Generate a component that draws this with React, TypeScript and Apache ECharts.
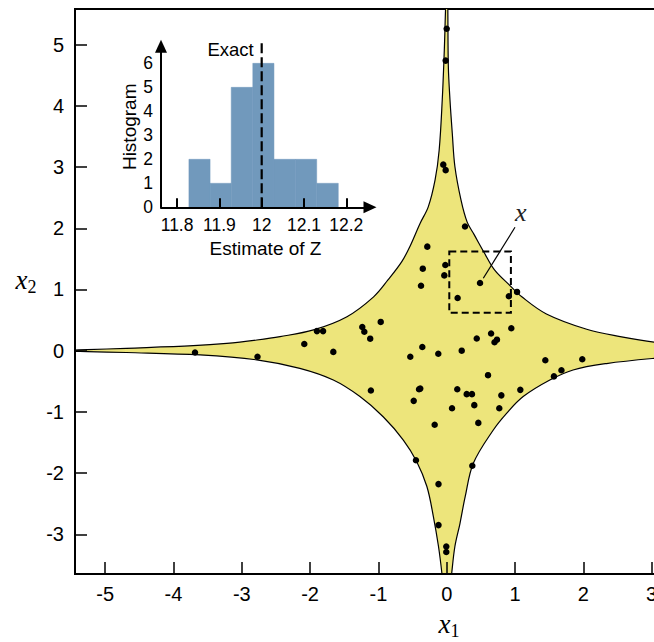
import React, { useEffect, useRef } from "react";
import * as echarts from "echarts";

// ---- main panel data ----
const xTicks = [-5, -4, -3, -2, -1, 0, 1, 2, 3];
const yTicks = [-3, -2, -1, 0, 1, 2, 3, 4, 5];

// boundary of the yellow region, traced per quadrant
const upperRightEdge = [
  [0.012, 5.9], [0.024, 4.65], [0.048, 4.1], [0.082, 3.55], [0.12, 3.01], [0.21, 2.46],
  [0.3, 2.1], [0.4, 1.9], [0.55, 1.6], [0.7, 1.32], [0.93, 1.06], [1.1, 0.88],
  [1.46, 0.6], [2.05, 0.35], [2.54, 0.23], [3.035, 0.14], [3.6, 0.09],
];
const lowerRightEdge = [
  [3.6, -0.08], [3.035, -0.125], [2.34, -0.21], [1.85, -0.315], [1.51, -0.48], [1.12, -0.75],
  [0.88, -1.02], [0.68, -1.3], [0.39, -1.84], [0.27, -2.39], [0.195, -2.82], [0.12, -3.2],
  [0.073, -3.64], [0.05, -3.9],
];
const lowerLeftEdge = [
  [-0.05, -3.9], [-0.07, -3.64], [-0.12, -3.2], [-0.195, -2.71], [-0.29, -2.22], [-0.44, -1.81],
  [-0.635, -1.46], [-0.93, -1.08], [-1.27, -0.75], [-1.66, -0.48], [-2.15, -0.29], [-2.78, -0.15],
  [-3.61, -0.07], [-4.69, -0.03], [-5.26, -0.015], [-5.6, -0.005],
];
const upperLeftEdge = [
  [-5.6, 0.005], [-5.26, 0.016], [-4.69, 0.039], [-3.71, 0.082], [-3.22, 0.12], [-2.78, 0.175],
  [-2.44, 0.23], [-1.95, 0.34], [-1.46, 0.556], [-1.07, 0.88], [-0.86, 1.155], [-0.66, 1.45],
  [-0.54, 1.7], [-0.39, 2.08], [-0.27, 2.35], [-0.17, 2.79], [-0.11, 3.28], [-0.065, 4.1],
  [-0.035, 4.91], [-0.005, 5.9],
];

// sample points
const pointsX1 = [
  0, -0.015, -0.05, -0.015, 0.268, -0.284, -0.02, -0.35, -0.035, -0.376,
  0.488, 0.16, 0.91, 1.03, -0.966, -1.236, -1.206, -1.12, 0.946, 0.44,
  0.65, 0.736, 0.7, -0.357, -0.123, 0.22, -0.533, 0.605, -1.11, -0.387,
  -0.405, 0.155, 0.293, 0.37, 0.8, 1.078, -0.483, 0.078, 0.404, 0.77,
  -0.176, 0.463, -0.45, 0.375, 1.444, 1.985, 1.68, 1.57, -0.12, -0.12,
  -0.006, -0.006, -1.9, -1.81, -2.085, -1.66, -2.77, -3.685,
];
const pointsX2 = [
  5.26, 4.74, 3.04, 2.95, 2.03, 1.7, 1.4, 1.34, 1.23, 1.06,
  1.106, 0.86, 0.89, 0.96, 0.47, 0.387, 0.31, 0.196, 0.366, 0.2,
  0.28, 0.18, 0.137, 0.06, -0.05, 0.0, -0.1, -0.4, -0.65, -0.62,
  -0.63, -0.63, -0.71, -0.71, -0.73, -0.64, -0.82, -0.94, -0.89, -0.94,
  -1.21, -1.18, -1.79, -1.88, -0.157, -0.14, -0.32, -0.42, -2.18, -2.85,
  -3.2, -3.29, 0.32, 0.32, 0.11, -0.02, -0.1, -0.03,
];

// highlighted point annotation
const boxX1 = [0.038, 0.94];
const boxX2 = [0.62, 1.62];
const pointerStart = [0.536, 1.183];
const pointerEnd = [1.0, 2.016];
const pointerLabel = [1.085, 2.26];

// ---- inset histogram data ----
const binEdges = [11.828, 11.878, 11.928, 11.979, 12.029, 12.08, 12.13, 12.181];
const binCounts = [2, 1, 5, 6, 2, 2, 1];
const insetXTicks = [11.8, 11.9, 12, 12.1, 12.2];
const insetYTicks = [0, 1, 2, 3, 4, 5, 6];
const exactValue = 12;

const SANS = "Liberation Sans";
const SERIF = "Liberation Serif";

export default function App() {
  const ref = useRef<HTMLDivElement>(null);
  useEffect(() => {
    const chart = echarts.init(ref.current!, null, { renderer: "svg" });
    const region = [...upperRightEdge, ...lowerRightEdge, ...lowerLeftEdge, ...upperLeftEdge];
    const points = pointsX1.map((v, i) => [v, pointsX2[i]]);
    const bins = binCounts.map((c, i) => [binEdges[i], binEdges[i + 1], c]);
    const mathRich = {
      v: { fontFamily: SERIF, fontStyle: "italic", fontSize: 27, lineHeight: 30, verticalAlign: "bottom", padding: [0, 0, 3, 0], fill: "#000", color: "#000" },
      s: { fontFamily: SERIF, fontSize: 18, lineHeight: 20, verticalAlign: "bottom", fill: "#000", color: "#000" },
    };
    chart.setOption({
      animation: false,
      backgroundColor: "#fff",
      grid: [
        { left: 75, top: 9, width: 599, height: 565, outerBoundsMode: "none", containLabel: false, show: true, borderColor: "#000", borderWidth: 2, backgroundColor: "transparent" },
        { left: 161, top: 46.3, width: 209, height: 161, outerBoundsMode: "none", containLabel: false },
      ],
      xAxis: [
        {
          type: "value", gridIndex: 0, min: -5.442, max: 3.328, z: 10,
          axisLine: { onZero: false, lineStyle: { color: "#000", width: 2 } },
          axisTick: { inside: true, length: 12, customValues: xTicks, lineStyle: { color: "#000", width: 1.5 } },
          axisLabel: { customValues: xTicks, color: "#000", fontSize: 20, fontFamily: SANS, margin: 10 },
          splitLine: { show: false },
        },
        {
          type: "value", gridIndex: 1, min: 11.762, max: 12.256, z: 10,
          axisLine: { onZero: false, symbol: ["none", "triangle"], symbolSize: [12, 13], lineStyle: { color: "#000", width: 2 } },
          axisTick: { inside: true, length: 9, customValues: insetXTicks, lineStyle: { color: "#000", width: 2 } },
          axisLabel: { customValues: insetXTicks, color: "#000", fontSize: 17.5, fontFamily: SANS, margin: 9, formatter: (v: number) => String(Math.round(v * 10) / 10) },
          splitLine: { show: false },
          name: "Estimate of Z", nameLocation: "middle", nameGap: 32,
          nameTextStyle: { color: "#000", fontSize: 19, fontFamily: SANS },
        },
      ],
      yAxis: [
        {
          type: "value", gridIndex: 0, min: -3.649, max: 5.583, z: 10,
          axisLine: { onZero: false, lineStyle: { color: "#000", width: 2 } },
          axisTick: { inside: true, length: 12, customValues: yTicks, lineStyle: { color: "#000", width: 1.5 } },
          axisLabel: { customValues: yTicks, color: "#000", fontSize: 20, fontFamily: SANS, margin: 11 },
          splitLine: { show: false },
        },
        {
          type: "value", gridIndex: 1, min: 0, max: 6.71, z: 10,
          axisLine: { onZero: false, symbol: ["none", "triangle"], symbolSize: [12, 13], lineStyle: { color: "#000", width: 2 } },
          axisTick: { show: false },
          axisLabel: { customValues: insetYTicks, color: "#000", fontSize: 17.5, fontFamily: SANS, margin: 8 },
          splitLine: { show: false },
          name: "Histogram", nameLocation: "middle", nameRotate: 90, nameGap: 22,
          nameTextStyle: { color: "#000", fontSize: 19, fontFamily: SANS },
        },
      ],
      series: [
        {
          type: "custom", xAxisIndex: 0, yAxisIndex: 0, clip: true, silent: true, z: 1,
          data: [[0, 0]],
          renderItem: (_p: any, api: any) => ({
            type: "polygon",
            shape: { points: region.map((pt) => api.coord(pt)), smooth: 0.35 },
            style: { fill: "#EDE57B", stroke: "#000", lineWidth: 1.2 },
          }),
        },
        {
          type: "scatter", xAxisIndex: 0, yAxisIndex: 0, z: 3, silent: true,
          symbol: "circle", symbolSize: 6.5,
          itemStyle: { color: "#000", opacity: 1 },
          data: points,
        },
        {
          type: "custom", xAxisIndex: 0, yAxisIndex: 0, clip: false, silent: true, z: 4,
          data: [[0, 0]],
          renderItem: (_p: any, api: any) => {
            const a = api.coord([boxX1[0], boxX2[1]]);
            const b = api.coord([boxX1[1], boxX2[0]]);
            const s = api.coord(pointerStart);
            const e = api.coord(pointerEnd);
            const l = api.coord(pointerLabel);
            return {
              type: "group",
              children: [
                { type: "rect", shape: { x: a[0], y: a[1], width: b[0] - a[0], height: b[1] - a[1] }, style: { fill: "none", stroke: "#000", lineWidth: 2, lineDash: [7, 4] } },
                { type: "line", shape: { x1: s[0], y1: s[1], x2: e[0], y2: e[1] }, style: { stroke: "#000", lineWidth: 1.2 } },
                { type: "text", x: l[0], y: l[1], style: { text: "x", fontFamily: SERIF, fontStyle: "italic", fontSize: 26, fill: "#222", align: "center", verticalAlign: "middle" } },
              ],
            };
          },
        },
        {
          type: "custom", xAxisIndex: 1, yAxisIndex: 1, silent: true, z: 2,
          encode: { x: [0, 1], y: 2 },
          data: bins,
          renderItem: (_p: any, api: any) => {
            const p0 = api.coord([api.value(0), api.value(2)]);
            const p1 = api.coord([api.value(1), 0]);
            return {
              type: "rect",
              shape: { x: p0[0], y: p0[1], width: p1[0] - p0[0], height: p1[1] - p0[1] },
              style: { fill: "#7199BC", stroke: "#7199BC", lineWidth: 0.5 },
            };
          },
        },
        {
          type: "custom", xAxisIndex: 1, yAxisIndex: 1, silent: true, clip: false, z: 5,
          data: [[exactValue, 0]],
          renderItem: (_p: any, api: any) => {
            const b = api.coord([exactValue, 0]);
            const t = api.coord([exactValue, 6.95]);
            const lab = api.coord([exactValue, 6.58]);
            return {
              type: "group",
              children: [
                { type: "line", shape: { x1: b[0], y1: b[1], x2: t[0], y2: t[1] }, style: { stroke: "#000", lineWidth: 2.2, lineDash: [10, 4] } },
                { type: "text", x: lab[0] - 8, y: lab[1], style: { text: "Exact", fontFamily: SANS, fontSize: 18.5, fill: "#000", align: "right", verticalAlign: "middle" } },
              ],
            };
          },
        },
      ],
      graphic: [
        { type: "text", x: 449, y: 625, style: { text: "{v|x}{s|1}", rich: mathRich, align: "center", verticalAlign: "middle" } },
        { type: "text", x: 26, y: 281, style: { text: "{v|x}{s|2}", rich: mathRich, align: "center", verticalAlign: "middle" } },
      ],
    });
    return () => chart.dispose();
  }, []);
  return <div ref={ref} style={{ position: "fixed", left: 0, top: 0, width: 654, height: 642 }} />;
}
